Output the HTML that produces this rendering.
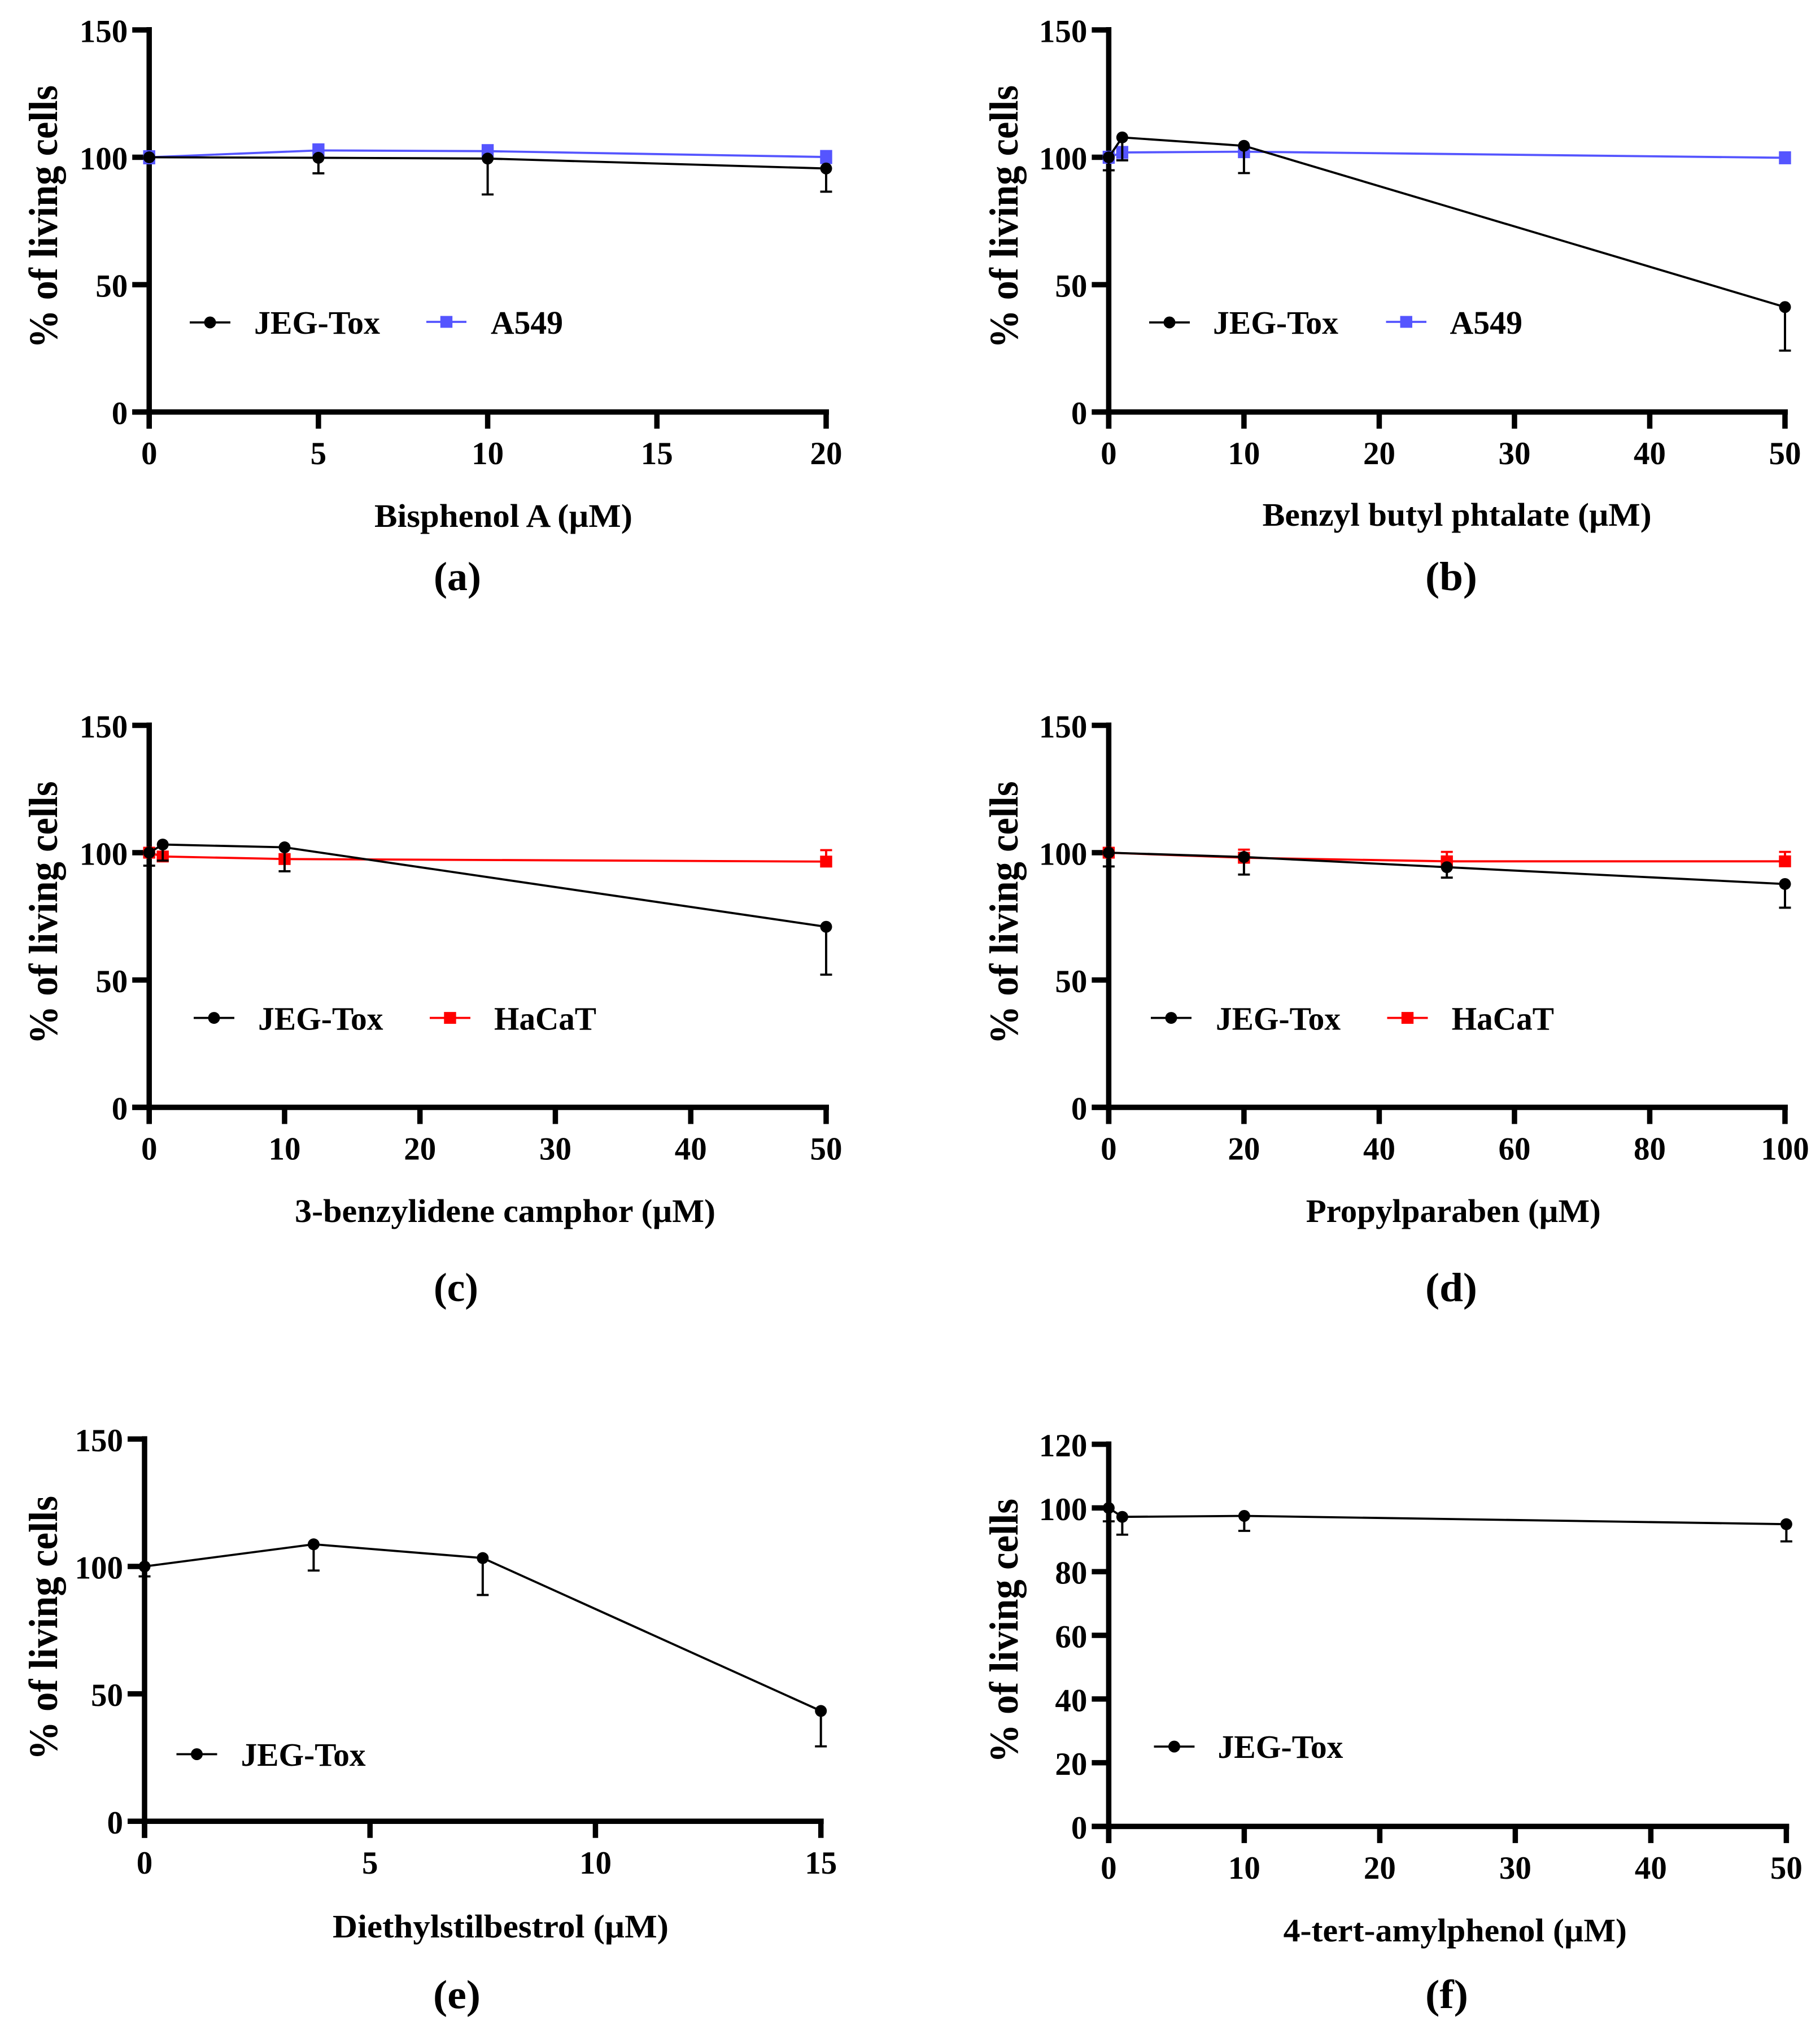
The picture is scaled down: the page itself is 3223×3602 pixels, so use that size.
<!DOCTYPE html>
<html lang="en">
<head>
<meta charset="utf-8">
<title>Cell viability dose-response panels</title>
<style>
html,body{margin:0;padding:0;background:#fff;width:3223px;height:3602px;overflow:hidden}
svg{display:block}
text{font-family:"Liberation Serif",serif;font-weight:bold;fill:#000}
</style>
</head>
<body>
<svg id="figure" xmlns="http://www.w3.org/2000/svg" width="3223" height="3602" viewBox="0 0 3223 3602"></svg>
<script>
// ---- Panel data ----
const yTicks150 = [0, 50, 100, 150];
const yTicks120 = [0, 20, 40, 60, 80, 100, 120];

const aXTicks = [0, 5, 10, 15, 20];
const aConc = [0, 5, 10, 20];
const aJeg = [100, 99.8, 99.5, 95.6];
const aJegErr = [0.5, 6.1, 14.1, 9.1];
const aOther = [100, 102.7, 102.4, 100.1];
const aOtherErr = [0.8, 1.2, 1, 0.8];

const bXTicks = [0, 10, 20, 30, 40, 50];
const bConc = [0, 1, 10, 50];
const bJeg = [100, 107.8, 104.5, 41.2];
const bJegErr = [5.1, 9, 10.7, 17.1];
const bOther = [100, 101.9, 102.2, 99.8];
const bOtherErr = [0.5, 1, 0.5, 0.5];

const cXTicks = [0, 10, 20, 30, 40, 50];
const cConc = [0, 1, 10, 50];
const cJeg = [100, 103.2, 102.1, 70.9];
const cJegErr = [5.1, 6.3, 9.4, 18.8];
const cOther = [100, 98.5, 97.5, 96.5];
const cOtherErr = [1, 0.8, 0.8, 4.5];

const dXTicks = [0, 20, 40, 60, 80, 100];
const dConc = [0, 20, 50, 100];
const dJeg = [100, 98.3, 94.3, 87.7];
const dJegErr = [5.4, 6.9, 4.1, 9.3];
const dOther = [100, 98, 96.6, 96.6];
const dOtherErr = [1, 3.2, 3.7, 3.7];

const eXTicks = [0, 5, 10, 15];
const eConc = [0, 3.75, 7.5, 15];
const eJeg = [100, 108.7, 103.3, 43.3];
const eJegErr = [3.9, 10.3, 14.5, 13.9];

const fXTicks = [0, 10, 20, 30, 40, 50];
const fConc = [0, 1, 10, 50];
const fJeg = [100, 97.2, 97.5, 94.9];
const fJegErr = [4.2, 5.6, 4.7, 5.4];

const BLUE = '#5555ff';
const RED = '#ff0000';
const NS = 'http://www.w3.org/2000/svg';
const svg = document.getElementById('figure');

function make(tag, attrs, parent, content) {
  const el = document.createElementNS(NS, tag);
  for (const k in attrs) el.setAttribute(k, attrs[k]);
  if (content !== undefined) el.textContent = content;
  parent.appendChild(el);
  return el;
}

function drawSeries(g, name, conc, vals, errs, dir, color, shape, markH, sx, sy) {
  const pts = conc.map((c, i) => sx(c) + ',' + sy(vals[i])).join(' ');
  const line = make('polyline', {points: pts, fill: 'none', stroke: color, 'stroke-width': 3.8, 'stroke-linejoin': 'round'}, g);
  
  
  conc.forEach((c, i) => {
    const x = sx(c), y = sy(vals[i]), yE = sy(vals[i] + dir * errs[i]);
    const stem = make('line', {x1: x, x2: x, y1: y, y2: yE, stroke: color, 'stroke-width': 4}, g);
    
    
    const cap = make('line', {x1: x - 10.5, x2: x + 10.5, y1: yE, y2: yE, stroke: color, 'stroke-width': 3.8}, g);
    
    
    let mark;
    if (shape === 'circle') {
      mark = make('circle', {cx: x, cy: y, r: 10.5, fill: color}, g);
    } else {
      mark = make('rect', {x: x - 10.7, y: y - markH / 2, width: 21.4, height: markH, fill: color}, g);
    }
    
    
  });
}

function drawLegend(g, item) {
  const ln = make('line', {x1: item.x1, x2: item.x2, y1: item.y, y2: item.y, stroke: item.color, 'stroke-width': 3.8}, g);
  
  
  const cx = (item.x1 + item.x2) / 2;
  let m;
  if (item.shape === 'circle') {
    m = make('circle', {cx: cx, cy: item.y, r: 10.5, fill: item.color}, g);
  } else {
    m = make('rect', {x: cx - 10.7, y: item.y - 10.5, width: 21.4, height: 21, fill: item.color}, g);
  }
  
  
  const t = make('text', {x: item.tx, y: item.base, 'font-size': 58, textLength: item.tw, lengthAdjust: 'spacingAndGlyphs'}, g, item.label);
  
  
}

function drawPanel(p) {
  const g = make('g', {}, svg);
  
  
  const f = p.frame;
  const sx = v => f.xL + (v - p.xTicks[0]) / (p.xTicks[p.xTicks.length - 1] - p.xTicks[0]) * (f.xR - f.xL);
  const sy = v => f.yB - v / p.yTicks[p.yTicks.length - 1] * (f.yB - f.yT);

  const yAxis = make('line', {x1: f.xL, x2: f.xL, y1: f.yT - 5, y2: f.yB + 29.5, stroke: '#000', 'stroke-width': 9.5}, g);
  
  
  const xAxis = make('line', {x1: f.xL - 30, x2: f.xR + 5, y1: f.yB, y2: f.yB, stroke: '#000', 'stroke-width': 9.5}, g);
  
  

  p.yTicks.forEach(v => {
    const tick = make('line', {x1: f.xL - 30, x2: f.xL, y1: sy(v), y2: sy(v), stroke: '#000', 'stroke-width': 9.5}, g);
    
    
    const lab = make('text', {x: f.xL - 38, y: sy(v) + 21.5, 'font-size': 57, 'text-anchor': 'end'}, g, String(v));
    
    
  });
  p.xTicks.forEach(v => {
    const tick = make('line', {x1: sx(v), x2: sx(v), y1: f.yB, y2: f.yB + 29.5, stroke: '#000', 'stroke-width': 9.5}, g);
    
    
    const lab = make('text', {x: sx(v), y: f.yB + 92.5, 'font-size': 57, 'text-anchor': 'middle'}, g, String(v));
    
    
  });

  if (p.other) {
    drawSeries(g, p.otherName, p.conc, p.other, p.otherErr, 1, p.otherColor, 'square', p.markH, sx, sy);
  }
  drawSeries(g, 'jeg-tox', p.conc, p.jeg, p.jegErr, -1, '#000', 'circle', 21, sx, sy);

  p.legend.forEach(item => drawLegend(g, item));

  const yTitle = make('text', {transform: 'translate(' + p.yTitle.x + ',' + p.yTitle.cy + ') rotate(-90)', 'text-anchor': 'middle', 'font-size': 72, textLength: p.yTitle.len, lengthAdjust: 'spacingAndGlyphs'}, g, '% of living cells');
  
  
  const xTitle = make('text', {x: p.xTitle.x, y: p.xTitle.y, 'font-size': 58, textLength: p.xTitle.w, lengthAdjust: 'spacingAndGlyphs'}, g, p.xTitle.text);
  
  
  const cap = make('text', {x: p.caption.x, y: p.caption.y, 'font-size': 72, textLength: p.caption.w, lengthAdjust: 'spacingAndGlyphs'}, g, '(' + p.id + ')');
  
  
}

drawPanel({
  id: 'a', xTicks: aXTicks, yTicks: yTicks150, conc: aConc, jeg: aJeg, jegErr: aJegErr,
  other: aOther, otherErr: aOtherErr, otherName: 'a549', otherColor: BLUE, markH: 25,
  frame: {xL: 264.2, xR: 1463, yB: 729.6, yT: 53},
  yTitle: {x: 101, cy: 384, len: 466},
  xTitle: {x: 663, y: 933, w: 457, text: 'Bisphenol A (\u00b5M)'},
  caption: {x: 768, y: 1045, w: 84},
  legend: [
    {x1: 336, x2: 408, y: 571, color: '#000', shape: 'circle', tx: 450, tw: 223, base: 591, label: 'JEG-Tox'},
    {x1: 755, x2: 826, y: 570, color: BLUE, shape: 'square', tx: 869, tw: 128, base: 591, label: 'A549'}
  ]
});
drawPanel({
  id: 'b', xTicks: bXTicks, yTicks: yTicks150, conc: bConc, jeg: bJeg, jegErr: bJegErr,
  other: bOther, otherErr: bOtherErr, otherName: 'a549', otherColor: BLUE, markH: 23,
  frame: {xL: 1963.4, xR: 3161, yB: 729.6, yT: 53},
  yTitle: {x: 1802, cy: 384, len: 466},
  xTitle: {x: 2235.6, y: 931, w: 689, text: 'Benzyl butyl phtalate (\u00b5M)'},
  caption: {x: 2524, y: 1045, w: 92},
  legend: [
    {x1: 2035, x2: 2107, y: 571, color: '#000', shape: 'circle', tx: 2148, tw: 222, base: 591, label: 'JEG-Tox'},
    {x1: 2454.5, x2: 2526, y: 570, color: BLUE, shape: 'square', tx: 2567.5, tw: 128.5, base: 591, label: 'A549'}
  ]
});
drawPanel({
  id: 'c', xTicks: cXTicks, yTicks: yTicks150, conc: cConc, jeg: cJeg, jegErr: cJegErr,
  other: cOther, otherErr: cOtherErr, otherName: 'hacat', otherColor: RED, markH: 21,
  frame: {xL: 264.2, xR: 1463, yB: 1961, yT: 1284.5},
  yTitle: {x: 101, cy: 1616.5, len: 466},
  xTitle: {x: 522, y: 2164, w: 745, text: '3-benzylidene camphor (\u00b5M)'},
  caption: {x: 768, y: 2304, w: 79},
  legend: [
    {x1: 343, x2: 415, y: 1802.6, color: '#000', shape: 'circle', tx: 457, tw: 221.5, base: 1823.7, label: 'JEG-Tox'},
    {x1: 761, x2: 833, y: 1802.6, color: RED, shape: 'square', tx: 875, tw: 181, base: 1823.7, label: 'HaCaT'}
  ]
});
drawPanel({
  id: 'd', xTicks: dXTicks, yTicks: yTicks150, conc: dConc, jeg: dJeg, jegErr: dJegErr,
  other: dOther, otherErr: dOtherErr, otherName: 'hacat', otherColor: RED, markH: 21,
  frame: {xL: 1963.4, xR: 3161, yB: 1961, yT: 1284.5},
  yTitle: {x: 1802, cy: 1616.5, len: 466},
  xTitle: {x: 2312.7, y: 2164, w: 522, text: 'Propylparaben (\u00b5M)'},
  caption: {x: 2524, y: 2304, w: 92},
  legend: [
    {x1: 2038, x2: 2110, y: 1802.6, color: '#000', shape: 'circle', tx: 2153, tw: 221, base: 1823.7, label: 'JEG-Tox'},
    {x1: 2456.5, x2: 2528.5, y: 1802.6, color: RED, shape: 'square', tx: 2570.6, tw: 181.4, base: 1823.7, label: 'HaCaT'}
  ]
});
drawPanel({
  id: 'e', xTicks: eXTicks, yTicks: yTicks150, conc: eConc, jeg: eJeg, jegErr: eJegErr,
  frame: {xL: 256, xR: 1453.7, yB: 3225.3, yT: 2548.4},
  yTitle: {x: 101, cy: 2883, len: 468},
  xTitle: {x: 589, y: 3431, w: 595, text: 'Diethylstilbestrol (\u00b5M)'},
  caption: {x: 767, y: 3556.5, w: 84},
  legend: [
    {x1: 312.5, x2: 384.5, y: 3106.5, color: '#000', shape: 'circle', tx: 426.6, tw: 221, base: 3127, label: 'JEG-Tox'}
  ]
});
drawPanel({
  id: 'f', xTicks: fXTicks, yTicks: yTicks120, conc: fConc, jeg: fJeg, jegErr: fJegErr,
  frame: {xL: 1963.4, xR: 3163.4, yB: 3234.4, yT: 2557.6},
  yTitle: {x: 1802, cy: 2888, len: 468},
  xTitle: {x: 2272.6, y: 3438, w: 608.4, text: '4-tert-amylphenol (\u00b5M)'},
  caption: {x: 2524, y: 3556, w: 76},
  legend: [
    {x1: 2043.5, x2: 2115.4, y: 3093, color: '#000', shape: 'circle', tx: 2156.5, tw: 222, base: 3113, label: 'JEG-Tox'}
  ]
});
</script>
</body>
</html>
